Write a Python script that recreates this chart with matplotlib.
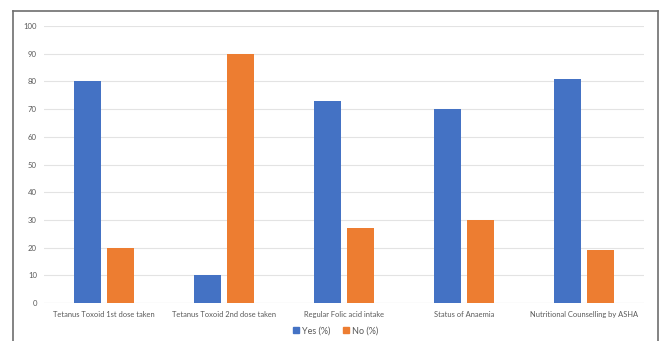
import matplotlib
matplotlib.use("Agg")
import matplotlib.pyplot as plt
from matplotlib.lines import Line2D
import numpy as np

categories = ["Tetanus Toxoid 1st dose taken", "Tetanus Toxoid 2nd dose taken",
              "Regular Folic acid intake", "Status of Anaemia",
              "Nutritional Counselling by ASHA"]
yes_vals = [80, 10, 73, 70, 81]
no_vals = [20, 90, 27, 30, 19]
yticks = list(range(0, 101, 10))

plt.rcParams['font.family'] = ['Lato', 'DejaVu Sans']
W, H = 659, 341
fig = plt.figure(figsize=(W/100, H/100), dpi=100)
ax = fig.add_axes([44/W, 1-303/H, (644-44)/W, (303-26)/H])

x = np.arange(len(categories))
bw = 0.225
gap = 0.058
blue = "#4472C4"
orange = "#ED7D31"
ax.bar(x - (bw+gap)/2, yes_vals, bw, color=blue, label="Yes (%)", zorder=3)
ax.bar(x + (bw+gap)/2, no_vals, bw, color=orange, label="No (%)", zorder=3)

ax.set_xlim(-0.5, len(categories)-0.5)
ax.set_ylim(0, 100)
ax.set_yticks(yticks)
ax.set_xticks(x)
ax.set_xticklabels(categories, fontsize=5.4, color="#595959")
ax.tick_params(axis='y', labelsize=5.6, labelcolor="#595959", length=0, pad=5)
ax.tick_params(axis='x', length=0, pad=6)
ax.grid(axis='y', color="#e3e3e3", linewidth=0.8, zorder=0)
for s in ax.spines.values():
    s.set_visible(False)
ax.axhline(0, color="#d9d9d9", linewidth=0.8, zorder=2)

leg = fig.legend(handles=[Line2D([], [], marker='s', linestyle='', color=blue, markersize=4, label="Yes (%)"),
                          Line2D([], [], marker='s', linestyle='', color=orange, markersize=4, label="No (%)")],
                 loc='center', bbox_to_anchor=(335/W, 1-331/H), ncol=2, frameon=False,
                 fontsize=6.5, handletextpad=0.2, columnspacing=1.2, handlelength=1.0)
for t in leg.get_texts():
    t.set_color("#595959")

# outer frame
fig.add_artist(Line2D([13/W, 13/W], [0, 1-11/H], color="#6e6e6e", linewidth=1.2, transform=fig.transFigure))
fig.add_artist(Line2D([13/W, 658/W], [1-11/H, 1-11/H], color="#6e6e6e", linewidth=1.2, transform=fig.transFigure))
fig.add_artist(Line2D([658/W, 658/W], [0, 1-11/H], color="#6e6e6e", linewidth=1.2, transform=fig.transFigure))

fig.savefig("out.png", dpi=100)
